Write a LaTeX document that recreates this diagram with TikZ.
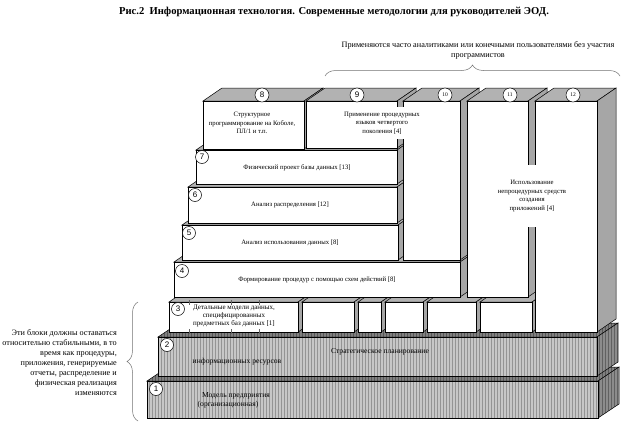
\documentclass[tikz,border=0pt]{standalone}
\usepackage{fontspec}
\setmainfont{Liberation Serif}
\newfontfamily\digitfont{Liberation Sans}
\usetikzlibrary{decorations.pathreplacing}
\tikzset{
  blkline/.style={draw=black,line width=0.5pt},
  numc/.style={circle,draw=black,fill=white,inner sep=0pt,minimum size=13pt,line width=0.5pt,font=\digitfont\fontsize{8}{8}\selectfont},
  numcs/.style={circle,draw=black,fill=white,inner sep=0pt,minimum size=14pt,line width=0.5pt,font=\fontsize{5.5}{5.5}\selectfont},
  lbl/.style={font=\fontsize{6.7}{8.5}\selectfont,align=center,inner sep=1pt},
  lblb/.style={font=\fontsize{7.6}{9}\selectfont,align=center,inner sep=1pt},
  note/.style={font=\fontsize{8.2}{10}\selectfont,inner sep=0pt},
  bracestyle/.style={draw=black!55,line width=0.5pt,decorate,decoration={brace,amplitude=11pt}}
}
% plain block: x1 y1 x2 y2 front top side
\newcommand\cubeblk[7]{%
  \filldraw[fill=#6,blkline] (#1,#2) -- ({#1+19},{#2-13}) -- ({#3+19},{#2-13}) -- (#3,#2) -- cycle;
  \filldraw[fill=#7,blkline] (#3,#2) -- ({#3+19},{#2-13}) -- ({#3+19},{#4-13}) -- (#3,#4) -- cycle;
  \filldraw[fill=#5,blkline] (#1,#2) rectangle (#3,#4);
}
% striped face
\newcommand\stripefill[3]{%
  \begin{scope}
    \clip #1;
    \fill[#2] #1;
    \foreach \k in {140,143,...,626} {\draw[#3,line width=0.9pt] (\k,60) -- (\k,423);}
  \end{scope}
  \draw[blkline] #1;
}
\newcommand\hatchblk[4]{%
  \stripefill{(#1,#2) -- ({#1+21},{#2-14}) -- ({#3+21},{#2-14}) -- (#3,#2) -- cycle}{black!50}{black!66}
  \stripefill{(#3,#2) -- ({#3+21},{#2-14}) -- ({#3+21},{#4-14}) -- (#3,#4) -- cycle}{black!45}{black!62}
  \stripefill{(#1,#2) -- (#3,#2) -- (#3,#4) -- (#1,#4) -- cycle}{black!22}{black!42}
}
\begin{document}
\begin{tikzpicture}[x=1pt,y=-1pt]
\useasboundingbox (0,0) rectangle (623,423);
\fill[white] (0,0) rectangle (623,423);

% title
\node[font=\bfseries\fontsize{10.6}{11}\selectfont,inner sep=0pt] (title) at (334,12)
  {Рис.2\ \ Информационная технология. Современные методологии для руководителей ЭОД.};

% top note and brace
\node[note,align=center] (topnote) at (478,50)
  {Применяются часто аналитиками или конечными пользователями без участия\\программистов};
\coordinate (tbL) at (325,76);
\coordinate (tbR) at (620,76);
\draw[bracestyle] (tbL) -- (tbR);

% left note and brace
\node[note,align=right,anchor=east] (leftnote) at (117,363)
  {Эти блоки должны оставаться\\относительно стабильными, в то\\время как процедуры,\\приложения, генерируемые\\отчеты, распределение и\\физическая реализация\\изменяются};
\coordinate (lbB) at (138,421);
\coordinate (lbT) at (138,302);
\draw[bracestyle] (lbB) -- (lbT);

% block 1 and 2
\hatchblk{147}{381}{598}{418}
\hatchblk{158}{337}{597}{376}

% row 3
\foreach \a/\b in {169/298,302/354,358/381,385/423,427/476,480/532}
  {\cubeblk{\a}{302}{\b}{332}{white}{black!30}{black!35}}
\foreach \t in {189,231,259}{
  \draw[black!60,line width=0.7pt] (\t,300) -- (\t,305);
  \draw[black!60,line width=0.7pt] (\t,329) -- (\t,334);
}

% slabs 4..7
\cubeblk{174}{262}{460}{297}{white}{black!30}{black!35}
\cubeblk{182}{225}{398}{260}{white}{black!30}{black!35}
\cubeblk{188}{187}{397}{223}{white}{black!30}{black!35}
\cubeblk{196}{150}{397}{184}{white}{black!30}{black!35}

% blocks 8, 9
\cubeblk{203}{101}{304}{149}{white}{black!30}{black!35}
\cubeblk{306}{101}{397}{148}{white}{black!30}{black!35}

% columns 10, 11, 12
\cubeblk{403}{101}{460}{260}{white}{black!30}{black!35}
\cubeblk{467}{101}{528}{297}{white}{black!30}{black!35}
\cubeblk{535}{101}{597}{332}{white}{black!30}{black!35}

% number circles
\node[numc,minimum size=14pt] (n8) at (262,95) {8};
\node[numc,minimum size=14pt] (n9) at (357,95) {9};
\node[numcs] (n10) at (445,95) {10};
\node[numcs] (n11) at (510,95) {11};
\node[numcs] (n12) at (573,95) {12};
\node[numc] (n7) at (202,157) {7};
\node[numc] (n6) at (195,195) {6};
\node[numc] (n5) at (189,233) {5};
\node[numc] (n4) at (182,271) {4};
\node[numc] (n3) at (178,309) {3};
\node[numc] (n2) at (167,345) {2};
\node[numc] (n1) at (156,389) {1};

% texts
\node[lbl] (t8) at (252,123) {Структурное\\программирование на Коболе,\\ПЛ/1 и т.п.};
\node[lbl,fill=white,minimum height=32pt] (t9) at (382,123) {Применение процедурных\\языков четвертого\\поколения [4]};
\node[lbl,fill=white,minimum height=62pt] (t11) at (532,196) {Использование\\непроцедурных средств\\создания\\приложений [4]};
\node[lbl] (t7) at (297,168) {Физический проект базы данных [13]};
\node[lbl] (t6) at (290,205) {Анализ распределения [12]};
\node[lbl] (t5) at (290,243) {Анализ использования данных [8]};
\node[lbl] (t4) at (317,280) {Формирование процедур с помощью схем действий [8]};
\node[lbl,font=\fontsize{7}{8}\selectfont] (t3) at (234,316) {Детальные модели данных,\\специфицированных\\предметных баз данных [1]};
\node[lblb] (t2a) at (380,352) {Стратегическое планирование};
\node[lblb] (t2b) at (237,362) {информационных ресурсов};
\node[lblb] (t1a) at (236,396) {Модель предприятия};
\node[lblb] (t1b) at (228,405) {(организационная)};
\end{tikzpicture}
\end{document}
